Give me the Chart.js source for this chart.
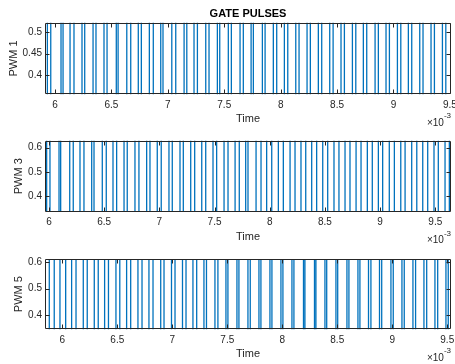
<!DOCTYPE html>
<html>
<head>
<meta charset="utf-8">
<title>Gate pulses</title>
<script src="https://cdn.jsdelivr.net/npm/chart.js@4.4.1/dist/chart.umd.min.js"></script>
<style>
  html, body { margin: 0; padding: 0; background: #fff; }
  #fig { position: relative; width: 455px; height: 364px; }
  #fig canvas { position: absolute; left: 0; }
</style>
</head>
<body>
<div id="fig">
  <canvas id="c1" width="455" height="130" style="top:0px"></canvas>
  <canvas id="c2" width="455" height="118" style="top:130px"></canvas>
  <canvas id="c3" width="455" height="116" style="top:248px"></canvas>
</div>
<script>
// tempos dos flancos (eixo em unidades de 1e-3 s)
const pwm1Edges = [5.932, 5.962, 6.053, 6.071, 6.133, 6.168, 6.239, 6.263, 6.337, 6.363,
  6.434, 6.461, 6.543, 6.559, 6.636, 6.671, 6.738, 6.765, 6.836, 6.871, 6.937, 6.957,
  7.035, 7.070, 7.144, 7.168, 7.232, 7.262, 7.336, 7.365, 7.439, 7.460, 7.536, 7.563,
  7.640, 7.669, 7.738, 7.758, 7.838, 7.862, 7.935, 7.965, 8.033, 8.063, 8.134, 8.163,
  8.234, 8.263, 8.334, 8.364, 8.435, 8.465, 8.535, 8.565, 8.636, 8.666, 8.733, 8.763,
  8.837, 8.866, 8.934, 8.964, 9.035, 9.065, 9.132, 9.162, 9.233, 9.262, 9.333, 9.363,
  9.434, 9.464];
const pwm3Edges = [5.979, 6.009, 6.091, 6.106, 6.188, 6.220, 6.281, 6.317, 6.387, 6.408,
  6.483, 6.519, 6.580, 6.613, 6.680, 6.709, 6.779, 6.815, 6.885, 6.915, 6.981, 7.017,
  7.087, 7.117, 7.187, 7.217, 7.284, 7.320, 7.384, 7.420, 7.486, 7.519, 7.586, 7.622,
  7.686, 7.724, 7.782, 7.803, 7.876, 7.921, 7.972, 8.018, 8.078, 8.123, 8.184, 8.229,
  8.283, 8.326, 8.380, 8.425, 8.480, 8.525, 8.582, 8.627, 8.682, 8.727, 8.782, 8.827,
  8.884, 8.929, 8.984, 9.023, 9.083, 9.129, 9.187, 9.226, 9.286, 9.332, 9.386, 9.431,
  9.488, 9.527, 9.588, 9.627];
const pwm5Edges = [5.882, 5.927, 5.979, 6.031, 6.085, 6.125, 6.191, 6.227, 6.291, 6.327,
  6.385, 6.420, 6.488, 6.523, 6.585, 6.622, 6.688, 6.725, 6.788, 6.825, 6.895, 6.925,
  6.993, 7.025, 7.093, 7.125, 7.188, 7.222, 7.288, 7.311, 7.388, 7.415, 7.488, 7.506,
  7.588, 7.606, 7.688, 7.709, 7.788, 7.806, 7.888, 7.906, 7.988, 8.006, 8.088, 8.106,
  8.193, 8.206, 8.293, 8.306, 8.388, 8.404, 8.488, 8.504, 8.588, 8.606, 8.688, 8.706,
  8.784, 8.806, 8.884, 8.904, 8.988, 9.009, 9.088, 9.109, 9.188, 9.212, 9.288, 9.313,
  9.388, 9.413, 9.488, 9.509];

// ticks
const timeTicks = [6, 6.5, 7, 7.5, 8, 8.5, 9, 9.5];
const timeLabels = ['6', '6.5', '7', '7.5', '8', '8.5', '9', '9.5'];
const pwm1Ticks = [0.4, 0.45, 0.5];
const pwm1Labels = ['0.4', '0.45', '0.5'];
const pwm35Ticks = [0.4, 0.5, 0.6];
const pwm35Labels = ['0.4', '0.5', '0.6'];

// limites dos eixos (zoom de cada subplot)
const pwm1XLim = [5.911, 9.51],  pwm1YLim = [0.354, 0.523];
const pwm3XLim = [5.964, 9.642], pwm3YLim = [0.335, 0.629];
const pwm5XLim = [5.843, 9.534], pwm5YLim = [0.347, 0.612];

const FONT = "'Liberation Sans', Arial, Helvetica, sans-serif";
const INK = '#262626';
const AZUL = '#0072BD';

// cada flanco troca o nivel 0 <-> 1
function pulsos(edges) {
  const pts = [{ x: edges[0], y: 0 }];
  edges.forEach((t, i) => pts.push({ x: t, y: i % 2 === 0 ? 1 : 0 }));
  return pts;
}

// caixa estilo MATLAB: contorno, ticks para dentro e o x10^-3
const caixaMatlab = {
  id: 'caixaMatlab',
  afterDraw(chart) {
    const { ctx, chartArea: a, scales: { x, y } } = chart;
    const L = 4;
    const l = Math.round(a.left) + 0.5, r = Math.round(a.right) - 0.5;
    const t = Math.round(a.top) + 0.5, b = Math.round(a.bottom) - 0.5;
    ctx.save();
    ctx.strokeStyle = INK;
    ctx.lineWidth = 1;
    ctx.beginPath();
    ctx.rect(l, t, r - l, b - t);
    x.ticks.forEach(tk => {
      const px = Math.round(x.getPixelForValue(tk.value)) + 0.5;
      ctx.moveTo(px, b); ctx.lineTo(px, b - L);
      ctx.moveTo(px, t); ctx.lineTo(px, t + L);
    });
    y.ticks.forEach(tk => {
      const py = Math.round(y.getPixelForValue(tk.value)) + 0.5;
      ctx.moveTo(l, py); ctx.lineTo(l + L, py);
      ctx.moveTo(r, py); ctx.lineTo(r - L, py);
    });
    ctx.stroke();

    ctx.fillStyle = INK;
    ctx.textAlign = 'right';
    ctx.textBaseline = 'middle';
    ctx.font = '8px ' + FONT;
    ctx.fillText('-3', a.right, a.bottom + 21.7);
    const w = ctx.measureText('-3').width;
    ctx.font = '10px ' + FONT;
    ctx.fillText('\u00d710', a.right - w, a.bottom + 28.5);
    ctx.restore();
  }
};

function subplot(id, o) {
  const xh = o.height - o.padTop - o.areaH;   // altura da zona do eixo x
  return new Chart(document.getElementById(id), {
    type: 'line',
    data: {
      datasets: [{
        data: pulsos(o.edges), stepped: 'before',
        borderColor: AZUL, borderWidth: 1.3, pointRadius: 0, fill: false, clip: 0
      }]
    },
    options: {
      responsive: false, animation: false, events: [],
      layout: { padding: { left: 0, right: 4, top: o.padTop, bottom: 0 } },
      plugins: {
        legend: { display: false },
        tooltip: { enabled: false },
        title: o.title ? {
          display: true, text: o.title, fullSize: false, color: '#000',
          font: { family: FONT, size: 11, weight: 'bold' }, padding: { top: 7.4, bottom: 2.1 }
        } : { display: false }
      },
      scales: {
        x: {
          type: 'linear', min: o.xlim[0], max: o.xlim[1],
          afterFit: s => { s.height = xh; s.paddingLeft = 0; s.paddingRight = 0; },
          afterBuildTicks: s => { s.ticks = timeTicks.map(v => ({ value: v })); },
          grid: { display: false, drawTicks: false }, border: { display: false },
          ticks: { font: { family: FONT, size: 10 }, color: INK, padding: 5, maxRotation: 0,
                   autoSkip: false, callback: (v, i) => timeLabels[i] },
          title: { display: true, text: 'Time', color: INK, font: { family: FONT, size: 11 },
                   padding: { top: 0, bottom: xh - 25 - 6.6 } }
        },
        y: {
          type: 'linear', min: o.ylim[0], max: o.ylim[1],
          afterFit: s => { s.width = 45; s.paddingTop = 0; s.paddingBottom = 0; },
          afterBuildTicks: s => { s.ticks = o.yTicks.map(v => ({ value: v })); },
          grid: { display: false, drawTicks: false }, border: { display: false },
          ticks: { font: { family: FONT, size: 10 }, color: INK, padding: 3,
                   callback: (v, i) => o.yLabels[i] },
          title: { display: true, text: o.ylabel, color: INK, font: { family: FONT, size: 11 },
                   padding: { top: o.ylabPad, bottom: 0 } }
        }
      }
    },
    plugins: [caixaMatlab]
  });
}

subplot('c1', { edges: pwm1Edges, xlim: pwm1XLim, ylim: pwm1YLim, yTicks: pwm1Ticks, yLabels: pwm1Labels,
  ylabel: 'PWM 1', title: 'GATE PULSES', height: 130, padTop: 0, areaH: 71.6 + 22.7, ylabPad: 6.9 });
subplot('c2', { edges: pwm3Edges, xlim: pwm3XLim, ylim: pwm3YLim, yTicks: pwm35Ticks, yLabels: pwm35Labels,
  ylabel: 'PWM 3', height: 118, padTop: 10.7, areaH: 71, ylabPad: 12.4 });
subplot('c3', { edges: pwm5Edges, xlim: pwm5XLim, ylim: pwm5YLim, yTicks: pwm35Ticks, yLabels: pwm35Labels,
  ylabel: 'PWM 5', height: 116, padTop: 11, areaH: 70.3, ylabPad: 12.4 });
</script>
</body>
</html>
